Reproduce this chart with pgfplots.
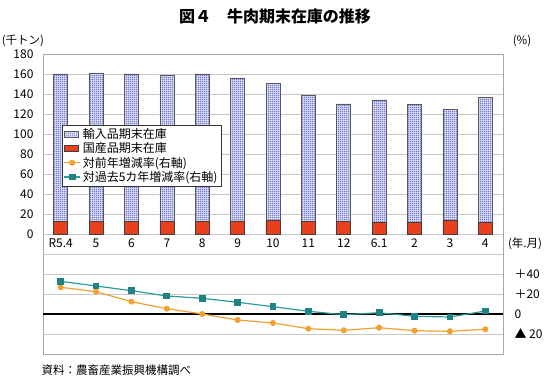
\documentclass[border=0pt]{standalone}
\usepackage{fontspec}
\setmainfont{Noto Sans CJK JP}
\usepackage{pgfplots}
\usepackage{pgfplotstable}
\pgfplotsset{compat=1.18}
\usetikzlibrary{patterns.meta}
\definecolor{gridc}{HTML}{C8C8C8}
\definecolor{axc}{HTML}{A8A8A8}
\definecolor{redbar}{HTML}{E8401C}
\definecolor{patc}{HTML}{6A70D0}
\definecolor{patfill}{HTML}{DDE0F6}
\definecolor{orangec}{HTML}{F2A02E}
\definecolor{tealc}{HTML}{2A9D9A}
\definecolor{tealm}{HTML}{1E8282}
\tikzdeclarepattern{
  name=fgrid,
  type=uncolored,
  bounding box={(0,0) and (2pt,2pt)},
  tile size={(2pt,2pt)},
  code={\draw[line width=0.55pt] (0,1pt)--(2pt,1pt) (1pt,0)--(1pt,2pt);}
}
\pgfplotsset{
  linelegend/.style={legend image code/.code={\draw[##1, mark=none] (0pt,0pt)--(16pt,0pt); \draw[##1] plot coordinates {(8pt,0pt)};}},
  implegend/.style={legend image code/.code={\draw[fill=patfill, draw=black!65, line width=0.6pt, postaction={pattern=fgrid, pattern color=patc}] (0pt,-3pt) rectangle (14pt,3pt);}},
  domlegend/.style={legend image code/.code={\draw[fill=redbar, draw=black!75, line width=0.6pt] (0pt,-3pt) rectangle (14pt,3pt);}},
}
\pgfplotstableread{
x dom imp
0 12.5 147.5
1 12.2 148.8
2 12.3 147.7
3 12.6 146.4
4 12.3 147.7
5 13.0 143.0
6 13.2 137.5
7 12.8 126.2
8 12.7 117.3
9 11.5 122.5
10 11.6 117.7
11 13.4 110.9
12 11.8 124.5
}\stock
\pgfplotstableread{
x yoy five
0 26.7 32.7
1 22.3 28.0
2 12.3 23.3
3 5.3 18.0
4 0.0 15.7
5 -6.0 11.7
6 -9.0 7.3
7 -14.7 2.7
8 -16.3 -0.7
9 -13.7 1.3
10 -16.7 -2.3
11 -17.3 -3.0
12 -15.3 3.0
}\rates
\newcommand{\fs}{\fontsize{12}{14}\selectfont}
\begin{document}
\begin{tikzpicture}
\path[use as bounding box] (0pt,0pt) rectangle (550pt,380pt);
\begin{axis}[
  at={(43pt,26pt)}, anchor=south west, scale only axis,
  width=460pt, height=300pt,
  xmin=-0.5, xmax=12.5, ymin=-120, ymax=180,
  ybar stacked, bar width=14pt,
  axis line style={axc},
  ytick={0,20,...,180},
  extra y ticks={-100,-80,-60,-40,-20},
  extra y tick labels={},
  extra y tick style={grid=major},
  ymajorgrids, major grid style={gridc, line width=0.8pt},
  xtick={0,...,12},
  xticklabels={R5.4,5,6,7,8,9,10,11,12,6.1,2,3,4},
  xticklabel style={yshift=119pt},
  major tick length=0pt,
  tick label style={font=\fs},
  yticklabel style={xshift=-6pt},
  /pgf/number format/assume math mode=true,
]
\addplot[fill=redbar, draw=black!75, line width=0.6pt] table[x=x, y=dom] {\stock};
\addplot[fill=patfill, draw=black!65, line width=0.6pt, postaction={pattern=fgrid, pattern color=patc}] table[x=x, y=imp] {\stock};
\end{axis}
\begin{axis}[
  at={(43pt,26pt)}, anchor=south west, scale only axis,
  width=460pt, height=300pt,
  xmin=-0.5, xmax=12.5, ymin=-40, ymax=260,
  axis y line*=right, axis x line=none,
  axis line style={axc},
  ytick={-20,0,20,40},
  yticklabels={▲ 20,0,＋20,＋40},
  yticklabel style={anchor=west, xshift=8pt, font=\fs},
  major tick length=0pt,
  /pgf/number format/assume math mode=true,
  legend style={at={(0.041,0.763)}, anchor=north west, draw=black!80,
    font=\fs, inner sep=1.5pt, row sep=-1.5pt, cells={anchor=west}},
]
\addlegendimage{implegend}
\addlegendentry{輸入品期末在庫}
\addlegendimage{domlegend}
\addlegendentry{国産品期末在庫}
\addplot[black, line width=1.4pt, forget plot] coordinates {(-0.5,0) (12.5,0)};
\addplot[color=orangec, line width=1.2pt, mark=*, mark size=2.4pt,
  mark options={fill=orangec, draw=orangec}, linelegend]
  table[x=x, y=yoy] {\rates};
\addlegendentry{対前年増減率(右軸)}
\addplot[color=tealc, line width=1.2pt, mark=square*, mark size=2.8pt,
  mark options={fill=tealm, draw=tealm}, linelegend]
  table[x=x, y=five] {\rates};
\addlegendentry{対過去5カ年増減率(右軸)}
\end{axis}
\node[font=\bfseries\fontsize{16}{19}\selectfont] at (275pt,364pt) {図４　牛肉期末在庫の推移};
\node[font=\fontsize{11.5}{13}\selectfont] at (23pt,339pt) {(千トン)};
\node[font=\fontsize{11.5}{13}\selectfont] at (522pt,339pt) {(\%)};
\node[font=\fontsize{11.5}{13}\selectfont] at (525pt,136pt) {(年.月)};
\node[font=\fontsize{11.5}{13}\selectfont, anchor=west] at (38pt,10pt) {資料：農畜産業振興機構調べ};
\end{tikzpicture}
\end{document}
